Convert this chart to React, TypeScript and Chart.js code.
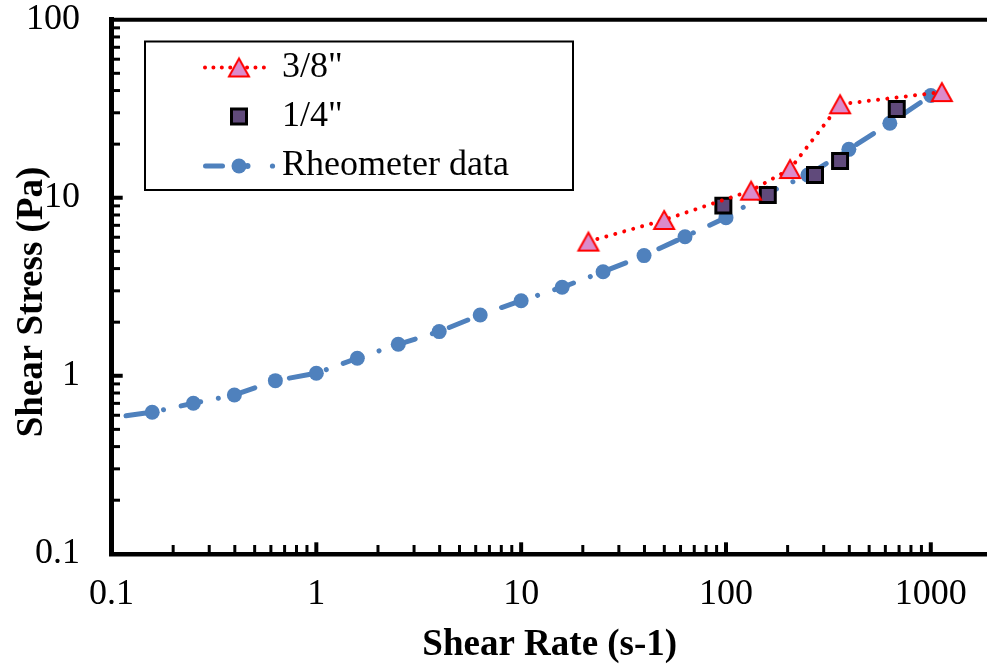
import React, { useEffect, useRef } from 'react';
import { Chart, registerables } from 'chart.js';

Chart.register(...registerables);

// ---- Data ----
const seriesNames = ['3/8"', '1/4"', 'Rheometer data'];

const triRate = [21.3, 49.9, 132.6, 205.6, 360.6, 1132];
const triStress = [5.67, 7.5, 10.96, 14.5, 33.5, 39.2];

const sqRate = [97.1, 160, 272, 360.6, 682];
const sqStress = [9.03, 10.37, 13.4, 16.1, 31.5];

const rheoRate = [0.0631, 0.158, 0.251, 0.398, 0.631, 1.0, 1.585, 2.512, 3.981, 6.31, 10, 15.85, 25.12, 39.81, 63.1, 100, 158.5, 251.2, 398.1, 631, 1000];
const rheoStress = [0.54, 0.624, 0.701, 0.78, 0.939, 1.033, 1.254, 1.503, 1.77, 2.196, 2.64, 3.14, 3.84, 4.73, 6.04, 7.73, 10.6, 13.4, 18.7, 26.2, 37.5];

const xTickValues = [0.1, 1, 10, 100, 1000];
const xTickLabels = ['0.1', '1', '10', '100', '1000'];
const yTickValues = [0.1, 1, 10, 100];
const yTickLabels = ['0.1', '1', '10', '100'];

const xTitle = 'Shear Rate (s-1)';
const yTitle = 'Shear Stress (Pa)';

const X_MIN = 0.1;
const X_MAX = 1881;
const Y_MIN = 0.1;
const Y_MAX = 100;

const FONT = "'Liberation Serif', 'Times New Roman', Times, serif";
const RED = '#FF0000';
const PINK = '#DB8BCB';
const PURPLE = '#604A7B';
const BLUE = '#4F81BD';

function toPoints(xs: number[], ys: number[]) {
  return xs.map((x, i) => ({ x, y: ys[i] }));
}

function labelFor(v: number, vals: number[], labels: string[]) {
  for (let i = 0; i < vals.length; i++) {
    if (Math.abs(v - vals[i]) / vals[i] < 1e-6) return labels[i];
  }
  return '';
}

let triCanvas: HTMLCanvasElement | null = null;
function getTriangle(): HTMLCanvasElement {
  if (triCanvas) return triCanvas;
  const c = document.createElement('canvas');
  c.width = 26;
  c.height = 26;
  const g = c.getContext('2d')!;
  g.beginPath();
  g.moveTo(13, 4);
  g.lineTo(23, 22);
  g.lineTo(3, 22);
  g.closePath();
  g.fillStyle = PINK;
  g.fill();
  g.strokeStyle = RED;
  g.lineWidth = 2;
  g.lineJoin = 'miter';
  g.stroke();
  triCanvas = c;
  return c;
}

function logTickValues(min: number, max: number) {
  const out: { v: number; major: boolean }[] = [];
  const e0 = Math.floor(Math.log10(min));
  const e1 = Math.ceil(Math.log10(max));
  for (let e = e0; e <= e1; e++) {
    for (let m = 1; m <= 9; m++) {
      const v = m * Math.pow(10, e);
      if (v <= min * 1.0001 || v >= max * 0.9999) continue;
      out.push({ v, major: m === 1 });
    }
  }
  return out;
}

const ticksPlugin = {
  id: 'insideTicks',
  beforeDatasetsDraw(chart: any) {
    const { ctx, chartArea: ca, scales } = chart;
    const xs = scales.x;
    const ys = scales.y;
    ctx.save();
    ctx.strokeStyle = '#000';
    ctx.lineCap = 'butt';
    for (const t of logTickValues(xs.min, xs.max)) {
      const px = xs.getPixelForValue(t.v);
      ctx.lineWidth = t.major ? 4 : 3;
      const len = t.major ? 11.5 : 8.8;
      ctx.beginPath();
      ctx.moveTo(px, ca.bottom);
      ctx.lineTo(px, ca.bottom - len);
      ctx.stroke();
    }
    for (const t of logTickValues(ys.min, ys.max)) {
      const py = ys.getPixelForValue(t.v);
      ctx.lineWidth = t.major ? 4 : 3;
      const len = t.major ? 11.2 : 8.5;
      ctx.beginPath();
      ctx.moveTo(ca.left, py);
      ctx.lineTo(ca.left + len, py);
      ctx.stroke();
    }
    // top frame line
    ctx.lineWidth = 4;
    ctx.beginPath();
    ctx.moveTo(ca.left - 2.5, ca.top);
    ctx.lineTo(ca.right, ca.top);
    ctx.stroke();
    ctx.restore();
  },
};

const decorPlugin = {
  id: 'decor',
  afterDraw(chart: any) {
    const { ctx, chartArea: ca } = chart;
    const tri = getTriangle();
    ctx.save();
    // axis titles
    ctx.fillStyle = '#000';
    ctx.font = `bold 37px ${FONT}`;
    ctx.textAlign = 'center';
    ctx.textBaseline = 'alphabetic';
    ctx.fillText(xTitle, (ca.left + ca.right) / 2 + 0.5, 654.5);
    ctx.save();
    ctx.translate(42, 302);
    ctx.rotate(-Math.PI / 2);
    ctx.fillText(yTitle, 0, 0);
    ctx.restore();

    // legend box
    ctx.fillStyle = '#fff';
    ctx.fillRect(145, 41.5, 428, 148.5);
    ctx.strokeStyle = '#000';
    ctx.lineWidth = 2;
    ctx.strokeRect(145, 41.5, 428, 148.5);

    const rows = [67.5, 116.5, 166];
    const symX = 239;

    // row 1: red dotted + triangle
    ctx.save();
    ctx.strokeStyle = RED;
    ctx.lineWidth = 4;
    ctx.lineCap = 'round';
    ctx.setLineDash([0.01, 8.4]);
    ctx.beginPath();
    ctx.moveTo(205, rows[0]);
    ctx.lineTo(265, rows[0]);
    ctx.stroke();
    ctx.restore();
    ctx.drawImage(tri, symX - tri.width / 2, rows[0] - tri.height / 2);

    // row 2: square
    ctx.fillStyle = PURPLE;
    ctx.fillRect(symX - 7.5, rows[1] - 7.5, 15, 15);
    ctx.strokeStyle = '#000';
    ctx.lineWidth = 3;
    ctx.strokeRect(symX - 7.5, rows[1] - 7.5, 15, 15);

    // row 3: blue dash-dot + circle
    ctx.save();
    ctx.strokeStyle = BLUE;
    ctx.fillStyle = BLUE;
    ctx.lineWidth = 5;
    ctx.lineCap = 'round';
    ctx.beginPath();
    ctx.moveTo(205.5, rows[2]);
    ctx.lineTo(222.5, rows[2]);
    ctx.stroke();
    ctx.beginPath();
    ctx.arc(247.5, rows[2], 3, 0, Math.PI * 2);
    ctx.fill();
    ctx.beginPath();
    ctx.arc(symX, rows[2], 7.5, 0, Math.PI * 2);
    ctx.fill();
    ctx.beginPath();
    ctx.arc(272.5, rows[2], 2.6, 0, Math.PI * 2);
    ctx.fill();
    ctx.restore();

    ctx.fillStyle = '#000';
    ctx.font = `36px ${FONT}`;
    ctx.textAlign = 'left';
    ctx.textBaseline = 'middle';
    seriesNames.forEach((name, i) => ctx.fillText(name, 282, rows[i]));
    ctx.restore();
  },
};

function zeroPadding(s: any) {
  s.paddingTop = 0;
  s.paddingBottom = 0;
  s.paddingLeft = 0;
  s.paddingRight = 0;
}

export default function App() {
  const ref = useRef<HTMLCanvasElement | null>(null);

  useEffect(() => {
    if (!ref.current) return;
    const tri = getTriangle();
    const chart = new Chart(ref.current, {
      type: 'scatter',
      data: {
        datasets: [
          {
            label: seriesNames[0],
            data: toPoints(triRate, triStress),
            showLine: true,
            borderColor: RED,
            borderWidth: 4,
            borderDash: [0.01, 9.3],
            borderCapStyle: 'round',
            pointStyle: tri as any,
            pointRadius: 12,
            backgroundColor: PINK,
          },
          {
            label: seriesNames[1],
            data: toPoints(sqRate, sqStress),
            showLine: false,
            pointStyle: 'rect',
            pointRadius: 10.6,
            pointBorderWidth: 3,
            pointBorderColor: '#000',
            pointBackgroundColor: PURPLE,
          },
          {
            label: seriesNames[2],
            data: toPoints(rheoRate, rheoStress),
            showLine: true,
            borderColor: BLUE,
            borderWidth: 5,
            borderDash: [20, 18, 0.01, 18],
            borderCapStyle: 'round',
            pointStyle: 'circle',
            pointRadius: 7.5,
            pointBorderWidth: 0,
            pointBackgroundColor: BLUE,
            pointBorderColor: BLUE,
          },
        ] as any,
      },
      options: {
        animation: false,
        responsive: false,
        events: [],
        layout: { autoPadding: false, padding: { top: 19.7, left: 0, right: 0, bottom: 0 } },
        plugins: {
          legend: { display: false },
          tooltip: { enabled: false },
        },
        scales: {
          x: {
            type: 'logarithmic',
            position: 'bottom',
            min: X_MIN,
            max: X_MAX,
            afterFit: (s: any) => {
              s.height = 668 - 553.8;
              zeroPadding(s);
            },
            grid: { display: true, drawOnChartArea: false, drawTicks: false, color: 'rgba(0,0,0,0)' },
            border: { display: true, color: '#000', width: 4.5 },
            ticks: {
              autoSkip: false,
              maxRotation: 0,
              minRotation: 0,
              padding: 23,
              color: '#000',
              font: { family: FONT, size: 36, lineHeight: 1 },
              callback: (v: any) => labelFor(Number(v), xTickValues, xTickLabels),
            },
          },
          y: {
            type: 'logarithmic',
            position: 'left',
            min: Y_MIN,
            max: Y_MAX,
            afterFit: (s: any) => {
              s.width = 111.5;
              zeroPadding(s);
            },
            grid: { display: true, drawOnChartArea: false, drawTicks: false, color: 'rgba(0,0,0,0)' },
            border: { display: true, color: '#000', width: 5 },
            ticks: {
              autoSkip: false,
              padding: 31.5,
              color: '#000',
              font: { family: FONT, size: 36, lineHeight: 1 },
              callback: (v: any) => labelFor(Number(v), yTickValues, yTickLabels),
            },
          },
        },
      } as any,
      plugins: [ticksPlugin, decorPlugin],
    });
    return () => chart.destroy();
  }, []);

  return (
    <div style={{ position: 'absolute', left: 0, top: 0, width: 987, height: 668, background: '#fff' }}>
      <canvas ref={ref} width={987} height={668} style={{ display: 'block' }} />
    </div>
  );
}
